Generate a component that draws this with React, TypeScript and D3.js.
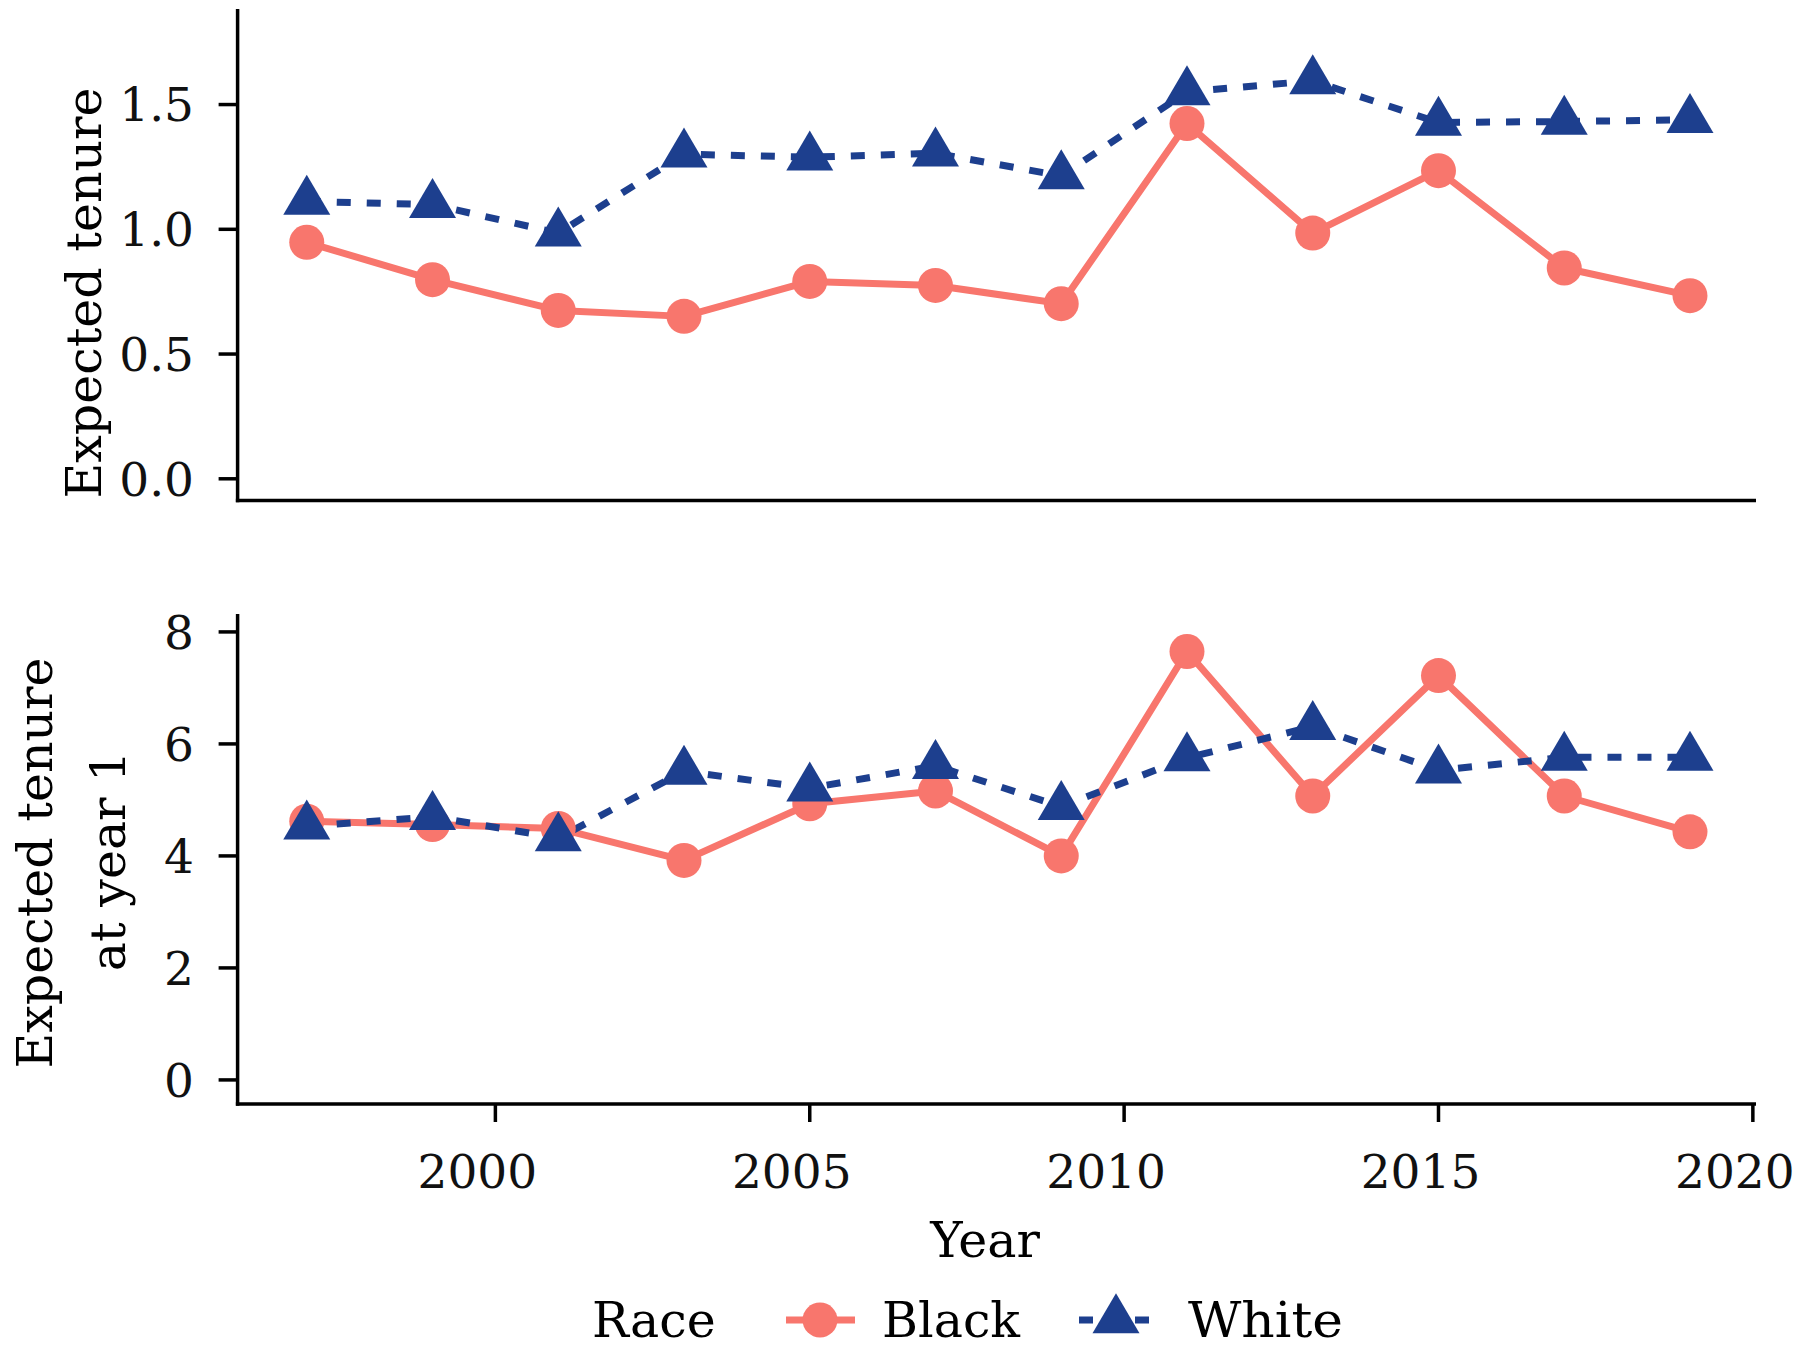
import React from "react";
import * as d3 from "d3";

const years = [1997, 1999, 2001, 2003, 2005, 2007, 2009, 2011, 2013, 2015, 2017, 2019];
const blackTenure = [0.948, 0.798, 0.675, 0.651, 0.791, 0.775, 0.702, 1.424, 0.985, 1.235, 0.845, 0.734];
const whiteTenure = [1.112, 1.099, 0.985, 1.301, 1.289, 1.305, 1.214, 1.551, 1.595, 1.428, 1.432, 1.439];
const blackYear1 = [4.62, 4.56, 4.49, 3.92, 4.93, 5.16, 4.0, 7.65, 5.07, 7.22, 5.07, 4.43];
const whiteYear1 = [4.53, 4.7, 4.32, 5.51, 5.21, 5.61, 4.88, 5.75, 6.31, 5.53, 5.76, 5.76];
const topTicks = [0, 0.5, 1.0, 1.5];
const topTickLabels = ["0.0", "0.5", "1.0", "1.5"];
const bottomTicks = [0, 2, 4, 6, 8];
const xTicks = [2000, 2005, 2010, 2015, 2020];
const seriesNames = ["Black", "White"];
const legendTitle = "Race";

const W = 1800;
const H = 1350;
const FONT = "'DejaVu Serif', serif";
const RED = "#F8766D";
const BLUE = "#1D3F8E";
const LW = 7;
const DASH = "14 16";
const AXW = 3.5;

const xScale = d3.scaleLinear().domain([1995.9, 2020.05]).range([237.6, 1756]);

type Panel = {
  top: number;
  bottom: number;
  domain: [number, number];
  black: number[];
  white: number[];
  ticks: number[];
  labels: string[];
  showX: boolean;
};

function triPath(cx: number, cy: number, w: number, h: number) {
  // centroid at (cx, cy)
  const apex = cy - (2 * h) / 3;
  const base = cy + h / 3;
  return `M${cx},${apex}L${cx + w / 2},${base}L${cx - w / 2},${base}Z`;
}

function PanelView({ p }: { p: Panel }) {
  const y = d3.scaleLinear().domain(p.domain).range([p.bottom, p.top]);
  const line = d3
    .line<number>()
    .x((_, i) => xScale(years[i]))
    .y((v) => y(v));
  const left = xScale.range()[0];
  const right = xScale.range()[1];
  return (
    <g>
      {/* axes */}
      <line x1={left} x2={left} y1={p.top} y2={p.bottom + AXW / 2} stroke="#000" strokeWidth={AXW} />
      <line x1={left - AXW / 2} x2={right} y1={p.bottom} y2={p.bottom} stroke="#000" strokeWidth={AXW} />
      {p.ticks.map((t, i) => (
        <g key={t}>
          <line x1={left - 19} x2={left} y1={y(t)} y2={y(t)} stroke="#000" strokeWidth={AXW} />
          <text
            x={194}
            y={y(t)}
            dy="0.36em"
            textAnchor="end"
            fontFamily={FONT}
            fontSize={47}
            fill="#111"
          >
            {p.labels[i]}
          </text>
        </g>
      ))}
      {p.showX &&
        xTicks.map((t) => (
          <g key={t}>
            <line x1={xScale(t)} x2={xScale(t)} y1={p.bottom} y2={p.bottom + 18} stroke="#000" strokeWidth={AXW} />
            <text
              x={xScale(t) - 18}
              y={1188}
              textAnchor="middle"
              fontFamily={FONT}
              fontSize={47}
              fill="#111"
            >
              {t}
            </text>
          </g>
        ))}
      {/* lines */}
      <path d={line(p.black) || ""} fill="none" stroke={RED} strokeWidth={LW} strokeLinejoin="round" />
      <path d={line(p.white) || ""} fill="none" stroke={BLUE} strokeWidth={LW} strokeDasharray={DASH} />
      {/* points */}
      {p.black.map((v, i) => (
        <circle key={"b" + i} cx={xScale(years[i])} cy={y(v)} r={17.5} fill={RED} />
      ))}
      {p.white.map((v, i) => (
        <path key={"w" + i} d={triPath(xScale(years[i]), y(v), 47, 40)} fill={BLUE} />
      ))}
    </g>
  );
}

export default function App() {
  const topPanel: Panel = {
    top: 9,
    bottom: 500.5,
    domain: [-0.087, 1.883],
    black: blackTenure,
    white: whiteTenure,
    ticks: topTicks,
    labels: topTickLabels,
    showX: false,
  };
  const bottomPanel: Panel = {
    top: 614,
    bottom: 1104,
    domain: [-0.43, 8.32],
    black: blackYear1,
    white: whiteYear1,
    ticks: bottomTicks,
    labels: bottomTicks.map(String),
    showX: true,
  };
  return (
    <svg
      width={W}
      height={H}
      viewBox={`0 0 ${W} ${H}`}
      style={{ position: "absolute", left: 0, top: 0, background: "#fff" }}
    >
      <rect width={W} height={H} fill="#fff" />
      <PanelView p={topPanel} />
      <PanelView p={bottomPanel} />
      {/* y titles */}
      <text
        transform="translate(101,293) rotate(-90)"
        textAnchor="middle"
        fontFamily={FONT}
        fontSize={49}
        fill="#000"
      >
        Expected tenure
      </text>
      <text
        transform="translate(52,863) rotate(-90)"
        textAnchor="middle"
        fontFamily={FONT}
        fontSize={49}
        fill="#000"
      >
        Expected tenure
      </text>
      <text
        transform="translate(125,861) rotate(-90)"
        textAnchor="middle"
        fontFamily={FONT}
        fontSize={49}
        fill="#000"
      >
        at year 1
      </text>
      {/* x title */}
      <text x={985} y={1257} textAnchor="middle" fontFamily={FONT} fontSize={49} fill="#000">
        Year
      </text>
      {/* legend */}
      <g fontFamily={FONT} fontSize={49} fill="#000">
        <text x={592} y={1337}>
          {legendTitle}
        </text>
        <line x1={786} x2={855} y1={1320} y2={1320} stroke={RED} strokeWidth={LW} />
        <circle cx={820} cy={1320} r={17.5} fill={RED} />
        <text x={882} y={1337}>
          {seriesNames[0]}
        </text>
        <line x1={1079} x2={1154} y1={1320} y2={1320} stroke={BLUE} strokeWidth={LW} strokeDasharray="14 14" />
        <path d={triPath(1116, 1320, 47, 40)} fill={BLUE} />
        <text x={1188} y={1337} textLength={155} lengthAdjust="spacingAndGlyphs">
          {seriesNames[1]}
        </text>
      </g>
    </svg>
  );
}
